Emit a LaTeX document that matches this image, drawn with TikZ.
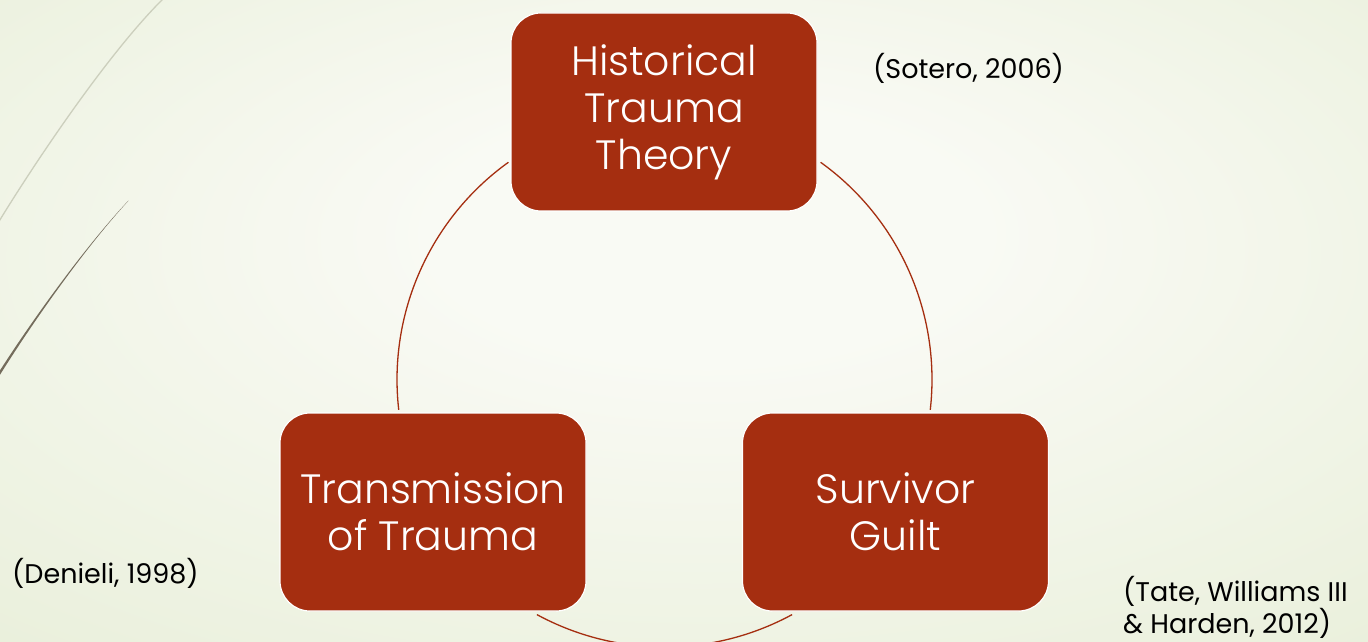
\documentclass[tikz,border=0pt]{standalone}
\usepackage{fontspec}
\setmainfont{Poppins}
\newfontfamily\boxfont{Poppins Light}
\usetikzlibrary{calc}
\definecolor{boxred}{RGB}{165,46,16}
\definecolor{bgin}{RGB}{249,250,244}
\definecolor{bgout}{RGB}{219,230,196}
\definecolor{wispdark}{RGB}{116,108,92}
\definecolor{wisplight}{RGB}{204,207,189}
\pgfdeclareradialshading{bgshade}{\pgfpoint{1bp}{8bp}}{color(0bp)=(bgin); color(10bp)=(bgin); color(66bp)=(bgout)}
\begin{document}
\begin{tikzpicture}[x=1pt,y=1pt,
  box/.style={rectangle, rounded corners=30pt, fill=boxred, draw=white, line width=1.2pt,
    minimum width=306pt, minimum height=198pt, inner sep=0pt, text=white, align=center,
    font=\boxfont\fontsize{41}{47}\selectfont},
  cite/.style={anchor=base west, inner sep=0pt, text=black, align=left,
    font=\fontsize{27}{28.5}\selectfont},
  conn/.style={draw=boxred, line width=1.3pt}]
\useasboundingbox (0,0) rectangle (1368,641);
\clip (0,0) rectangle (1368,641);
\shade[shading=bgshade] (0,0) rectangle (1368,641);
% decorative wisps
\draw[wisplight, line width=1.3pt] (166,645) .. controls (106,587) and (25,463) .. (-5,413);
\fill[wispdark] (128,440) .. controls (83,392) and (27,314) .. (-8,258) -- (-5.9,256.7) .. controls (28.6,313) and (83.6,391.6) .. (128.6,440.4) -- cycle;
% circle connectors
\coordinate (O) at (664.5,261.5);
\draw[conn] ($(O)+(54.3:267.5)$) arc[start angle=54.3, end angle=-6.5, radius=267.5];
\draw[conn] ($(O)+(186.5:267.5)$) arc[start angle=186.5, end angle=125.7, radius=267.5];
\draw[conn] ($(O)+(241.5:267.5)$) arc[start angle=241.5, end angle=298.5, radius=267.5];
% boxes
\node[box] (hist) at (664,529) {Historical\\Trauma\\Theory};
\node[box] (trans) at (433,129) {Transmission\\of Trauma};
\node[box] (surv) at (895.5,129) {Survivor\\Guilt};
% citations
\node[cite] (sotero) at (873,562) {(Sotero, 2006)};
\node[cite] (denieli) at (12,58) {(Denieli, 1998)};
\node[cite] (tate) at (1123,8) {(Tate, Williams III\\\& Harden, 2012)};
\end{tikzpicture}
\end{document}
